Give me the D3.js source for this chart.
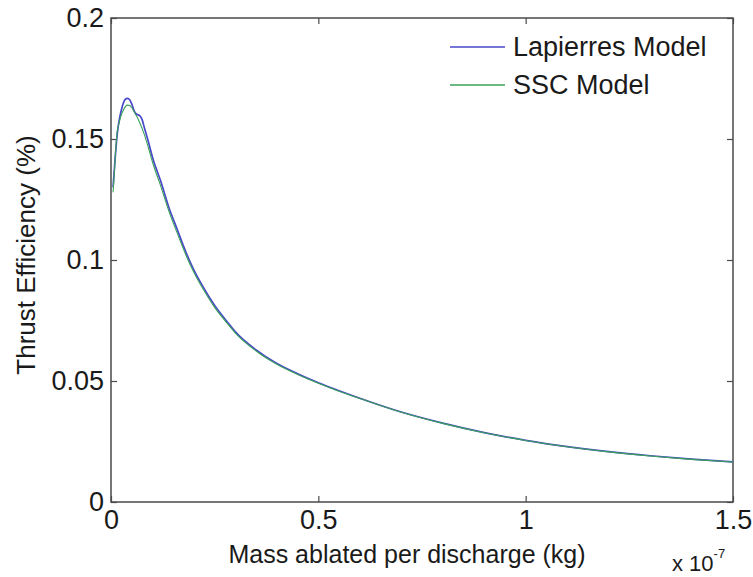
<!DOCTYPE html>
<html><head><meta charset="utf-8">
<script src="https://cdn.jsdelivr.net/npm/d3@7"></script>
<style>body{margin:0;background:#fff;} text{font-family:"Liberation Sans",Arial,sans-serif;fill:#1a1a1a;}</style>
</head><body><svg id="c" width="753" height="577"></svg>
<script>
// Mass ablated per discharge (x 1e-7 kg)
const lapX = [0.005,0.01,0.015,0.02,0.025,0.03,0.035,0.04,0.045,0.05,0.055,0.06,0.065,0.07,0.075,0.08,0.09,0.1,0.12,0.14,0.16,0.18,0.2,0.22,0.25,0.28,0.3,0.35,0.4,0.45,0.5,0.55,0.6,0.7,0.8,0.9,1.0,1.1,1.2,1.3,1.4,1.5];
const lapY = [0.130,0.142,0.152,0.158,0.162,0.165,0.1665,0.1668,0.1662,0.1645,0.162,0.1605,0.160,0.1595,0.158,0.155,0.149,0.1425,0.1325,0.1215,0.1125,0.1035,0.0958,0.0895,0.0812,0.0745,0.0703,0.0628,0.0572,0.0530,0.0493,0.0460,0.0429,0.0372,0.0326,0.0287,0.0255,0.0229,0.0208,0.0191,0.0177,0.0166];
const sscX = [0.005,0.01,0.015,0.02,0.025,0.03,0.035,0.04,0.045,0.05,0.055,0.06,0.07,0.08,0.09,0.1,0.12,0.14,0.16,0.18,0.2,0.22,0.25,0.28,0.3,0.35,0.4,0.45,0.5,0.55,0.6,0.7,0.8,0.9,1.0,1.1,1.2,1.3,1.4,1.5];
const sscY = [0.128,0.142,0.153,0.157,0.160,0.162,0.1635,0.164,0.1638,0.163,0.1615,0.160,0.1565,0.152,0.1465,0.1405,0.1305,0.1200,0.1110,0.1023,0.0948,0.0886,0.0804,0.0739,0.0698,0.0624,0.0569,0.0527,0.0491,0.0458,0.0428,0.0371,0.0325,0.0286,0.0254,0.0228,0.0207,0.0190,0.0176,0.0165];
const xTicks = [0,0.5,1,1.5];
const xTickLabels = ["0","0.5","1","1.5"];
const yTicks = [0,0.05,0.1,0.15,0.2];
const yTickLabels = ["0","0.05","0.1","0.15","0.2"];
const seriesNames = ["Lapierres Model","SSC Model"];
const seriesColors = ["#4848c8","#3aa05a"];

const W=753,H=577,m={l:111,t:18,r:20,b:75};
const svg=d3.select("#c");
const x=d3.scaleLinear().domain([0,1.5]).range([m.l,W-m.r]);
const y=d3.scaleLinear().domain([0,0.2]).range([H-m.b,m.t]);
const axisCol="#4a4a4a";
const FF="Liberation Sans, Arial, sans-serif";

svg.append("rect").attr("x",m.l).attr("y",m.t).attr("width",W-m.r-m.l).attr("height",H-m.b-m.t)
  .attr("fill","none").attr("stroke",axisCol).attr("stroke-width",1.5);

const ax=(g)=>{g.attr("font-size",null).attr("font-family",null);g.select(".domain").remove();g.selectAll("line").attr("stroke",axisCol).attr("stroke-width",1.2);g.selectAll("text").attr("fill","#1a1a1a").attr("font-size","27px").attr("font-family",FF);};
svg.append("g").attr("transform",`translate(0,${H-m.b})`)
  .call(d3.axisBottom(x).tickValues(xTicks).tickFormat((d,i)=>xTickLabels[i]).tickSizeInner(-6).tickSizeOuter(0).tickPadding(8)).call(ax);
svg.append("g").attr("transform",`translate(0,${m.t})`)
  .call(d3.axisTop(x).tickValues(xTicks).tickFormat("").tickSizeInner(-6).tickSizeOuter(0)).call(ax);
svg.append("g").attr("transform",`translate(${m.l},0)`)
  .call(d3.axisLeft(y).tickValues(yTicks).tickFormat((d,i)=>yTickLabels[i]).tickSizeInner(-6).tickSizeOuter(0).tickPadding(7)).call(ax);
svg.append("g").attr("transform",`translate(${W-m.r},0)`)
  .call(d3.axisRight(y).tickValues(yTicks).tickFormat("").tickSizeInner(-6).tickSizeOuter(0)).call(ax);

const line=d3.line().x(d=>x(d[0])).y(d=>y(d[1])).curve(d3.curveMonotoneX);
svg.append("path").datum(lapX.map((v,i)=>[v,lapY[i]])).attr("d",line).attr("fill","none").attr("stroke",seriesColors[0]).attr("stroke-width",1.7);
svg.append("path").datum(sscX.map((v,i)=>[v,sscY[i]])).attr("d",line).attr("fill","none").attr("stroke",seriesColors[1]).attr("stroke-width",1.1);

svg.append("text").attr("x",407).attr("y",563).attr("text-anchor","middle").attr("font-size","25px").text("Mass ablated per discharge (kg)");
svg.append("text").attr("transform",`translate(35,${(m.t+H-m.b)/2-5}) rotate(-90)`).attr("text-anchor","middle").attr("font-size","26px").text("Thrust Efficiency (%)");
const mult=svg.append("text").attr("x",672).attr("y",571).attr("font-size","22px");
mult.append("tspan").text("x 10");
mult.append("tspan").attr("dy",-13).attr("font-size","13px").text("-7");

seriesNames.forEach((n,i)=>{
  const ly=47+i*38;
  svg.append("line").attr("x1",450).attr("x2",505).attr("y1",ly).attr("y2",ly).attr("stroke",seriesColors[i]).attr("stroke-width",1.5);
  svg.append("text").attr("x",513).attr("y",ly+9).attr("font-size","27px").text(n);
});
</script></body></html>
